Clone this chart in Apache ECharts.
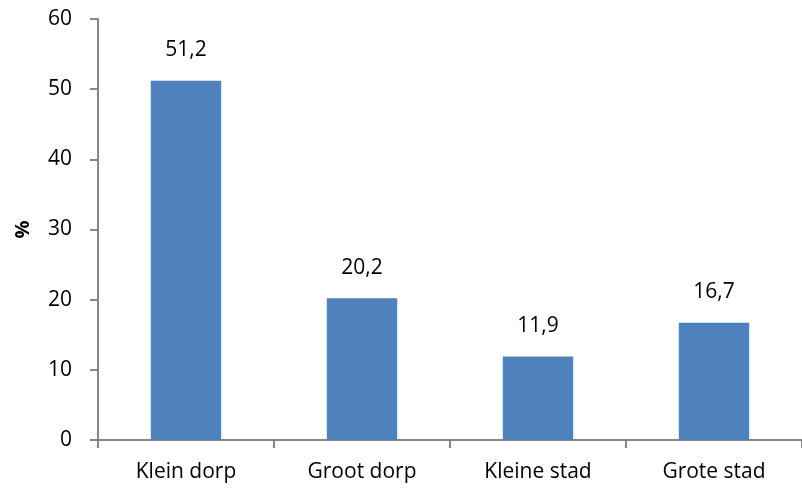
<!DOCTYPE html>
<html><head><meta charset="utf-8">
<script src="https://cdn.jsdelivr.net/npm/echarts@6/dist/echarts.min.js"></script>
<style>html,body{margin:0;padding:0;background:#fff}#c{width:802px;height:490px}</style>
</head><body><div id="c"></div>
<script>
const categories = ['Klein dorp', 'Groot dorp', 'Kleine stad', 'Grote stad'];
const values = [51.2, 20.2, 11.9, 16.7];
const yTicks = {min: 0, max: 60, interval: 10};
const yName = '%';

const chart = echarts.init(document.getElementById('c'), null, {renderer: 'canvas'});
const font = 'Open Sans';
chart.setOption({
  animation: false,
  grid: {left: 98, width: 709, top: 19, bottom: 50, containLabel: false},
  xAxis: {
    type: 'category', data: categories,
    axisLine: {lineStyle: {color: '#868686', width: 2}},
    axisTick: {show: true, length: 8, lineStyle: {color: '#868686', width: 2}},
    axisLabel: {color: '#000', fontFamily: font, fontSize: 21, margin: 22}
  },
  yAxis: {
    type: 'value', min: yTicks.min, max: yTicks.max, interval: yTicks.interval,
    name: yName, nameLocation: 'middle', nameGap: 65, nameRotate: 90,
    nameTextStyle: {color: '#000', fontFamily: font, fontSize: 20, fontWeight: 'bold'},
    splitLine: {show: false},
    axisLine: {show: true, lineStyle: {color: '#868686', width: 2}},
    axisTick: {show: true, length: 8, lineStyle: {color: '#868686', width: 2}},
    axisLabel: {color: '#000', fontFamily: font, fontSize: 21, margin: 26}
  },
  series: [{
    type: 'bar', data: values, barWidth: '40%',
    itemStyle: {color: '#4F81BD'},
    label: {show: true, position: 'top', distance: 20, color: '#000', fontFamily: font, fontSize: 21,
      formatter: p => String(p.value).replace('.', ',')}
  }]
});
</script></body></html>
